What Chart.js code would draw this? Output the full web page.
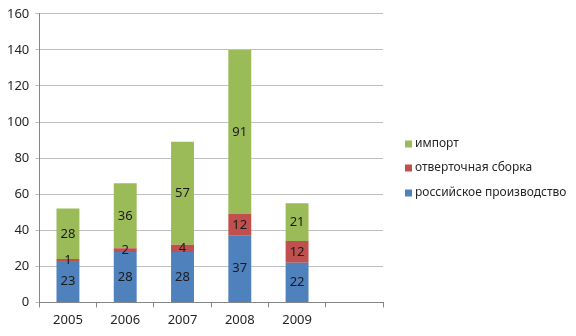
<!DOCTYPE html>
<html>
<head>
<meta charset="utf-8">
<script src="https://cdn.jsdelivr.net/npm/chart.js@4/dist/chart.umd.min.js"></script>
<style>
  html, body { margin: 0; padding: 0; background: #fff; }
</style>
</head>
<body>
<canvas id="chart" width="576" height="336"></canvas>
<script>
const years = ['2005', '2006', '2007', '2008', '2009', ''];
const russianProduction = [23, 28, 28, 37, 22, null];
const screwdriverAssembly = [1, 2, 4, 12, 12, null];
const imports = [28, 36, 57, 91, 21, null];
const yTicks = [0, 20, 40, 60, 80, 100, 120, 140, 160];

const textFont = '"Noto Sans", sans-serif';

// подписи значений в середине каждого сегмента
const valueLabels = {
    id: 'valueLabels',
    afterDatasetsDraw(chart) {
        const ctx = chart.ctx;
        ctx.save();
        ctx.font = '13px ' + textFont;
        ctx.fillStyle = '#1a1a1a';
        ctx.textAlign = 'center';
        ctx.textBaseline = 'middle';
        chart.data.datasets.forEach((ds, i) => {
            chart.getDatasetMeta(i).data.forEach((bar, j) => {
                const v = ds.data[j];
                if (v == null) return;
                ctx.fillText(String(v), bar.x, (bar.y + bar.base) / 2);
            });
        });
        ctx.restore();
    }
};

// легенда справа, в обратном порядке
const sideLegend = {
    id: 'sideLegend',
    afterDraw(chart) {
        const ctx = chart.ctx;
        const area = chart.chartArea;
        const x = area.right + 22;
        const ys = [144, 168, 193];
        ctx.save();
        ctx.font = '12px ' + textFont;
        ctx.textBaseline = 'middle';
        ctx.textAlign = 'left';
        const sets = chart.data.datasets.slice().reverse();
        sets.forEach((ds, k) => {
            ctx.fillStyle = ds.backgroundColor;
            ctx.fillRect(x, ys[k] - 3.5, 7, 7);
            ctx.fillStyle = '#262626';
            ctx.fillText(ds.label, x + 10, ys[k]);
        });
        ctx.restore();
    }
};

new Chart('chart', {
    type: 'bar',
    data: {
        labels: years,
        datasets: [{
            label: 'российское производство',
            data: russianProduction,
            backgroundColor: '#4F81BD'
        }, {
            label: 'отверточная сборка',
            data: screwdriverAssembly,
            backgroundColor: '#C0504D'
        }, {
            label: 'импорт',
            data: imports,
            backgroundColor: '#9BBB59'
        }]
    },
    options: {
        responsive: false,
        animation: false,
        devicePixelRatio: 1,
        categoryPercentage: 1,
        barPercentage: 0.4,
        layout: {
            padding: { top: 10, right: 193, left: 1, bottom: 3 }
        },
        plugins: {
            legend: { display: false },
            tooltip: { enabled: false }
        },
        scales: {
            x: {
                stacked: true,
                grid: {
                    offset: true,
                    drawOnChartArea: false,
                    tickLength: 5,
                    color: '#868686'
                },
                border: { color: '#868686' },
                ticks: {
                    color: '#262626',
                    font: { family: textFont, size: 13 },
                    padding: 5
                }
            },
            y: {
                stacked: true,
                min: yTicks[0],
                max: yTicks[yTicks.length - 1],
                afterBuildTicks(scale) {
                    scale.ticks = yTicks.map(v => ({ value: v }));
                },
                grid: {
                    color: '#BFBFBF',
                    tickLength: 4
                },
                border: { color: '#868686' },
                ticks: {
                    color: '#262626',
                    font: { family: textFont, size: 13 },
                    padding: 6
                }
            }
        }
    },
    plugins: [valueLabels, sideLegend]
});
</script>
</body>
</html>
